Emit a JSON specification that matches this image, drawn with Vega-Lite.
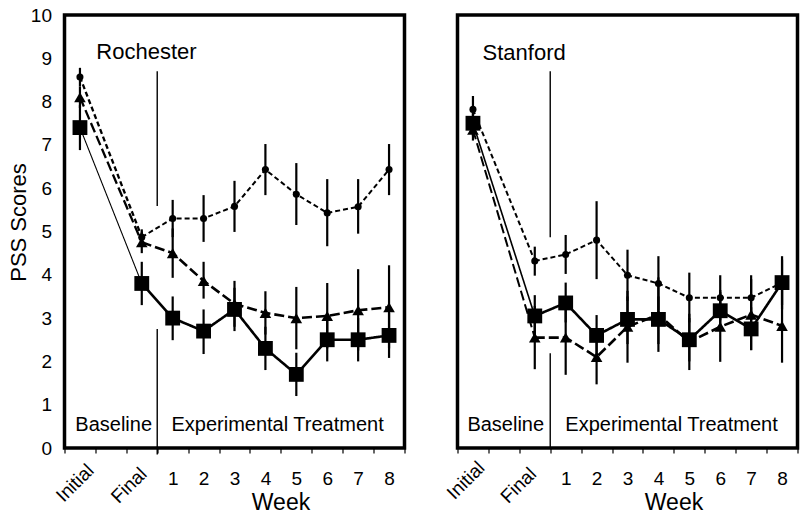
{
  "$schema": "https://vega.github.io/schema/vega-lite/v6.json",
  "padding": {"left": 4.5, "top": 4, "right": 0, "bottom": 0},
  "background": "white",
  "bounds": "flush",
  "spacing": 53,
  "datasets": {
    "pss": [
      {"site": "Rochester", "group": "A", "period": "Initial", "score": 8.57, "lo": 8.35, "hi": 8.78},
      {"site": "Rochester", "group": "A", "period": "Final", "score": 4.87, "lo": 4.65, "hi": 5.05},
      {"site": "Rochester", "group": "A", "period": "1", "score": 5.3, "lo": 4.87, "hi": 5.73},
      {"site": "Rochester", "group": "A", "period": "2", "score": 5.3, "lo": 4.76, "hi": 5.84},
      {"site": "Rochester", "group": "A", "period": "3", "score": 5.58, "lo": 4.99, "hi": 6.17},
      {"site": "Rochester", "group": "A", "period": "4", "score": 6.43, "lo": 5.84, "hi": 7.02},
      {"site": "Rochester", "group": "A", "period": "5", "score": 5.86, "lo": 5.15, "hi": 6.58},
      {"site": "Rochester", "group": "A", "period": "6", "score": 5.43, "lo": 4.66, "hi": 6.21},
      {"site": "Rochester", "group": "A", "period": "7", "score": 5.57, "lo": 4.95, "hi": 6.21},
      {"site": "Rochester", "group": "A", "period": "8", "score": 6.43, "lo": 5.84, "hi": 7.02},
      {"site": "Rochester", "group": "B", "period": "Initial", "score": 8.1, "lo": 7.85, "hi": 8.35},
      {"site": "Rochester", "group": "B", "period": "Final", "score": 4.75, "lo": 4.5, "hi": 5.0},
      {"site": "Rochester", "group": "B", "period": "1", "score": 4.5, "lo": 3.93, "hi": 5.07},
      {"site": "Rochester", "group": "B", "period": "2", "score": 3.86, "lo": 3.45, "hi": 4.3},
      {"site": "Rochester", "group": "B", "period": "3", "score": 3.33, "lo": 2.8, "hi": 3.86},
      {"site": "Rochester", "group": "B", "period": "4", "score": 3.12, "lo": 2.62, "hi": 3.62},
      {"site": "Rochester", "group": "B", "period": "5", "score": 3.0, "lo": 2.28, "hi": 3.72},
      {"site": "Rochester", "group": "B", "period": "6", "score": 3.05, "lo": 2.3, "hi": 3.81},
      {"site": "Rochester", "group": "B", "period": "7", "score": 3.18, "lo": 2.25, "hi": 4.13},
      {"site": "Rochester", "group": "B", "period": "8", "score": 3.25, "lo": 2.3, "hi": 4.22},
      {"site": "Rochester", "group": "C", "period": "Initial", "score": 7.4, "lo": 6.88, "hi": 7.92},
      {"site": "Rochester", "group": "C", "period": "Final", "score": 3.8, "lo": 3.3, "hi": 4.3},
      {"site": "Rochester", "group": "C", "period": "1", "score": 3.0, "lo": 2.49, "hi": 3.5},
      {"site": "Rochester", "group": "C", "period": "2", "score": 2.7, "lo": 2.17, "hi": 3.2},
      {"site": "Rochester", "group": "C", "period": "3", "score": 3.2, "lo": 2.7, "hi": 3.7},
      {"site": "Rochester", "group": "C", "period": "4", "score": 2.3, "lo": 1.8, "hi": 2.8},
      {"site": "Rochester", "group": "C", "period": "5", "score": 1.7, "lo": 1.2, "hi": 2.2},
      {"site": "Rochester", "group": "C", "period": "6", "score": 2.5, "lo": 2.0, "hi": 3.0},
      {"site": "Rochester", "group": "C", "period": "7", "score": 2.5, "lo": 2.0, "hi": 3.0},
      {"site": "Rochester", "group": "C", "period": "8", "score": 2.6, "lo": 2.08, "hi": 3.12},
      {"site": "Stanford", "group": "A", "period": "Initial", "score": 7.82, "lo": 7.5, "hi": 8.13},
      {"site": "Stanford", "group": "A", "period": "Final", "score": 4.32, "lo": 3.98, "hi": 4.65},
      {"site": "Stanford", "group": "A", "period": "1", "score": 4.47, "lo": 4.02, "hi": 4.92},
      {"site": "Stanford", "group": "A", "period": "2", "score": 4.8, "lo": 3.9, "hi": 5.7},
      {"site": "Stanford", "group": "A", "period": "3", "score": 3.99, "lo": 3.4, "hi": 4.58},
      {"site": "Stanford", "group": "A", "period": "4", "score": 3.8, "lo": 3.18, "hi": 4.43},
      {"site": "Stanford", "group": "A", "period": "5", "score": 3.47, "lo": 2.9, "hi": 4.05},
      {"site": "Stanford", "group": "A", "period": "6", "score": 3.47, "lo": 2.95, "hi": 3.99},
      {"site": "Stanford", "group": "A", "period": "7", "score": 3.47, "lo": 2.95, "hi": 3.99},
      {"site": "Stanford", "group": "A", "period": "8", "score": 3.82, "lo": 3.2, "hi": 4.43},
      {"site": "Stanford", "group": "B", "period": "Initial", "score": 7.35, "lo": 7.1, "hi": 7.6},
      {"site": "Stanford", "group": "B", "period": "Final", "score": 2.55, "lo": 1.82, "hi": 3.28},
      {"site": "Stanford", "group": "B", "period": "1", "score": 2.55, "lo": 1.69, "hi": 3.4},
      {"site": "Stanford", "group": "B", "period": "2", "score": 2.1, "lo": 1.47, "hi": 2.73},
      {"site": "Stanford", "group": "B", "period": "3", "score": 2.8, "lo": 1.97, "hi": 3.63},
      {"site": "Stanford", "group": "B", "period": "4", "score": 3.08, "lo": 2.22, "hi": 3.94},
      {"site": "Stanford", "group": "B", "period": "5", "score": 2.45, "lo": 1.8, "hi": 3.1},
      {"site": "Stanford", "group": "B", "period": "6", "score": 2.8, "lo": 1.99, "hi": 3.6},
      {"site": "Stanford", "group": "B", "period": "7", "score": 3.08, "lo": 2.26, "hi": 3.9},
      {"site": "Stanford", "group": "B", "period": "8", "score": 2.82, "lo": 1.97, "hi": 3.67},
      {"site": "Stanford", "group": "C", "period": "Initial", "score": 7.5, "lo": 7.2, "hi": 7.8},
      {"site": "Stanford", "group": "C", "period": "Final", "score": 3.05, "lo": 2.57, "hi": 3.53},
      {"site": "Stanford", "group": "C", "period": "1", "score": 3.35, "lo": 2.9, "hi": 3.82},
      {"site": "Stanford", "group": "C", "period": "2", "score": 2.6, "lo": 2.13, "hi": 3.07},
      {"site": "Stanford", "group": "C", "period": "3", "score": 2.97, "lo": 2.4, "hi": 3.5},
      {"site": "Stanford", "group": "C", "period": "4", "score": 2.97, "lo": 2.4, "hi": 3.5},
      {"site": "Stanford", "group": "C", "period": "5", "score": 2.5, "lo": 2.0, "hi": 3.0},
      {"site": "Stanford", "group": "C", "period": "6", "score": 3.17, "lo": 2.7, "hi": 3.65},
      {"site": "Stanford", "group": "C", "period": "7", "score": 2.75, "lo": 2.26, "hi": 3.25},
      {"site": "Stanford", "group": "C", "period": "8", "score": 3.82, "lo": 3.3, "hi": 4.35}
    ],
    "notes": [
      {"site": "Rochester", "kind": "div", "period": "Final", "y0": 8.7, "y1": 5.59},
      {"site": "Rochester", "kind": "div", "period": "Final", "y0": 2.75, "y1": -0.15},
      {"site": "Stanford", "kind": "div", "period": "Final", "y0": 8.7, "y1": 4.87},
      {"site": "Stanford", "kind": "div", "period": "Final", "y0": 2.19, "y1": 0},
      {"site": "Rochester", "kind": "site", "period": "gap", "y": 8.98, "label": "Rochester"},
      {"site": "Stanford", "kind": "site", "period": "Initial", "y": 8.96, "label": "Stanford"},
      {"site": "Rochester", "kind": "base", "period": "Initial", "y": 0.39, "label": "Baseline"},
      {"site": "Stanford", "kind": "base", "period": "Initial", "y": 0.39, "label": "Baseline"},
      {"site": "Rochester", "kind": "exp", "period": "1", "y": 0.39, "label": "Experimental Treatment"},
      {"site": "Stanford", "kind": "exp", "period": "1", "y": 0.39, "label": "Experimental Treatment"},
      {"site": "Both", "kind": "xlabel", "period": "Initial", "label": "Initial"},
      {"site": "Both", "kind": "xlabel", "period": "Final", "label": "Final"}
    ]
  },
  "hconcat": [
    {
      "width": 340,
      "height": 433,
      "layer": [
        {
          "data": {"name": "pss"},
          "transform": [{"filter": "datum.site == 'Rochester'"}],
          "mark": {"type": "rule", "color": "black", "strokeWidth": 2.2},
          "encoding": {
            "x": {
              "field": "period", "type": "nominal",
              "scale": {"type": "band", "domain": ["Initial", "gap", "Final", "1", "2", "3", "4", "5", "6", "7", "8"], "paddingInner": 0, "paddingOuter": 0},
              "axis": {"title": "Week", "labelOverlap": false, "labelAngle": 0, "labelExpr": "datum.value == 'gap' || datum.value == 'Initial' || datum.value == 'Final' ? '' : datum.value"}
            },
            "y": {"field": "lo", "type": "quantitative", "scale": {"domain": [0, 10], "nice": false}, "title": "PSS Scores"},
            "y2": {"field": "hi"}
          }
        },
        {
          "data": {"name": "pss"},
          "transform": [{"filter": "datum.site == 'Rochester' && (datum.period == 'Initial' || datum.period == 'Final')"}],
          "mark": {"type": "line", "color": "black"},
          "encoding": {
            "x": {"field": "period", "type": "nominal", "scale": {"type": "band", "domain": ["Initial", "gap", "Final", "1", "2", "3", "4", "5", "6", "7", "8"], "paddingInner": 0, "paddingOuter": 0}, "title": "Week"},
            "y": {"field": "score", "type": "quantitative", "scale": {"domain": [0, 10], "nice": false}, "title": "PSS Scores"},
            "detail": {"field": "group"},
            "strokeDash": {"field": "group", "type": "nominal", "scale": {"domain": ["A", "B", "C"], "range": [[5, 3], [10, 4], [1, 0]]}, "legend": null},
            "strokeWidth": {"condition": {"test": "datum.group == 'C'", "value": 1.1}, "value": 2.3},
            "order": {"value": null}
          }
        },
        {
          "data": {"name": "pss"},
          "transform": [{"filter": "datum.site == 'Rochester' && datum.period != 'Initial'"}],
          "mark": {"type": "line", "color": "black"},
          "encoding": {
            "x": {"field": "period", "type": "nominal", "scale": {"type": "band", "domain": ["Initial", "gap", "Final", "1", "2", "3", "4", "5", "6", "7", "8"], "paddingInner": 0, "paddingOuter": 0}, "title": "Week"},
            "y": {"field": "score", "type": "quantitative", "scale": {"domain": [0, 10], "nice": false}, "title": "PSS Scores"},
            "detail": {"field": "group"},
            "strokeDash": {"field": "group", "type": "nominal", "scale": {"domain": ["A", "B", "C"], "range": [[5, 3], [10, 4], [1, 0]]}, "legend": null},
            "strokeWidth": {"condition": {"test": "datum.group == 'A'", "value": 2}, "value": 2.6},
            "order": {"value": null}
          }
        },
        {
          "data": {"name": "pss"},
          "transform": [{"filter": "datum.site == 'Rochester'"}],
          "mark": {"type": "point", "filled": true, "color": "black", "opacity": 1},
          "encoding": {
            "x": {"field": "period", "type": "nominal", "scale": {"type": "band", "domain": ["Initial", "gap", "Final", "1", "2", "3", "4", "5", "6", "7", "8"], "paddingInner": 0, "paddingOuter": 0}, "title": "Week"},
            "y": {"field": "score", "type": "quantitative", "scale": {"domain": [0, 10], "nice": false}, "title": "PSS Scores"},
            "shape": {"field": "group", "type": "nominal", "scale": {"domain": ["A", "B", "C"], "range": ["circle", "triangle-up", "square"]}, "legend": null},
            "size": {"field": "group", "type": "nominal", "scale": {"domain": ["A", "B", "C"], "range": [50, 220, 75]}, "legend": null}
          }
        },
        {
          "data": {"name": "notes"},
          "transform": [{"filter": "datum.site == 'Rochester' && datum.kind == 'div'"}],
          "mark": {"type": "rule", "color": "black", "strokeWidth": 1.4},
          "encoding": {
            "x": {"field": "period", "type": "nominal", "bandPosition": 1, "scale": {"type": "band", "domain": ["Initial", "gap", "Final", "1", "2", "3", "4", "5", "6", "7", "8"], "paddingInner": 0, "paddingOuter": 0}, "title": "Week"},
            "y": {"field": "y0", "type": "quantitative", "scale": {"domain": [0, 10], "nice": false}, "title": "PSS Scores"},
            "y2": {"field": "y1"}
          }
        },
        {
          "data": {"name": "notes"},
          "transform": [{"filter": "datum.site == 'Rochester' && datum.kind == 'site'"}],
          "mark": {"type": "text", "align": "left", "baseline": "alphabetic", "fontSize": 22, "color": "black"},
          "encoding": {
            "x": {"field": "period", "type": "nominal", "bandPosition": 0.03, "scale": {"type": "band", "domain": ["Initial", "gap", "Final", "1", "2", "3", "4", "5", "6", "7", "8"], "paddingInner": 0, "paddingOuter": 0}, "title": "Week"},
            "y": {"field": "y", "type": "quantitative", "scale": {"domain": [0, 10], "nice": false}, "title": "PSS Scores"},
            "text": {"field": "label"}
          }
        },
        {
          "data": {"name": "notes"},
          "transform": [{"filter": "datum.site == 'Rochester' && datum.kind == 'base'"}],
          "mark": {"type": "text", "align": "left", "baseline": "alphabetic", "fontSize": 20, "color": "black"},
          "encoding": {
            "x": {"field": "period", "type": "nominal", "bandPosition": 0.35, "scale": {"type": "band", "domain": ["Initial", "gap", "Final", "1", "2", "3", "4", "5", "6", "7", "8"], "paddingInner": 0, "paddingOuter": 0}, "title": "Week"},
            "y": {"field": "y", "type": "quantitative", "scale": {"domain": [0, 10], "nice": false}, "title": "PSS Scores"},
            "text": {"field": "label"}
          }
        },
        {
          "data": {"name": "notes"},
          "transform": [{"filter": "datum.site == 'Rochester' && datum.kind == 'exp'"}],
          "mark": {"type": "text", "align": "left", "baseline": "alphabetic", "fontSize": 20, "color": "black"},
          "encoding": {
            "x": {"field": "period", "type": "nominal", "bandPosition": 0.46, "scale": {"type": "band", "domain": ["Initial", "gap", "Final", "1", "2", "3", "4", "5", "6", "7", "8"], "paddingInner": 0, "paddingOuter": 0}, "title": "Week"},
            "y": {"field": "y", "type": "quantitative", "scale": {"domain": [0, 10], "nice": false}, "title": "PSS Scores"},
            "text": {"field": "label"}
          }
        },
        {
          "data": {"name": "notes"},
          "transform": [{"filter": "datum.kind == 'xlabel' && datum.label == 'Initial'"}],
          "mark": {"type": "text", "align": "right", "baseline": "middle", "angle": 315, "fontSize": 19, "color": "black"},
          "encoding": {
            "x": {"field": "period", "type": "nominal", "bandPosition": 0.85, "scale": {"type": "band", "domain": ["Initial", "gap", "Final", "1", "2", "3", "4", "5", "6", "7", "8"], "paddingInner": 0, "paddingOuter": 0}, "title": "Week"},
            "y": {"datum": -0.45, "type": "quantitative", "scale": {"domain": [0, 10], "nice": false}, "title": "PSS Scores"},
            "text": {"field": "label"}
          }
        },
        {
          "data": {"name": "notes"},
          "transform": [{"filter": "datum.kind == 'xlabel' && datum.label == 'Final'"}],
          "mark": {"type": "text", "align": "right", "baseline": "middle", "angle": 315, "fontSize": 19, "color": "black"},
          "encoding": {
            "x": {"field": "period", "type": "nominal", "bandPosition": 0.56, "scale": {"type": "band", "domain": ["Initial", "gap", "Final", "1", "2", "3", "4", "5", "6", "7", "8"], "paddingInner": 0, "paddingOuter": 0}, "title": "Week"},
            "y": {"datum": -0.53, "type": "quantitative", "scale": {"domain": [0, 10], "nice": false}, "title": "PSS Scores"},
            "text": {"field": "label"}
          }
        }
      ]
    },
    {
      "width": 340,
      "height": 433,
      "layer": [
        {
          "data": {"name": "pss"},
          "transform": [{"filter": "datum.site == 'Stanford'"}],
          "mark": {"type": "rule", "color": "black", "strokeWidth": 2.2},
          "encoding": {
            "x": {
              "field": "period", "type": "nominal",
              "scale": {"type": "band", "domain": ["Initial", "gap", "Final", "1", "2", "3", "4", "5", "6", "7", "8"], "paddingInner": 0, "paddingOuter": 0},
              "axis": {"title": "Week", "labelOverlap": false, "labelAngle": 0, "labelExpr": "datum.value == 'gap' || datum.value == 'Initial' || datum.value == 'Final' ? '' : datum.value"}
            },
            "y": {"field": "lo", "type": "quantitative", "scale": {"domain": [0, 10], "nice": false}, "axis": null},
            "y2": {"field": "hi"}
          }
        },
        {
          "data": {"name": "pss"},
          "transform": [{"filter": "datum.site == 'Stanford' && (datum.period == 'Initial' || datum.period == 'Final')"}],
          "mark": {"type": "line", "color": "black"},
          "encoding": {
            "x": {"field": "period", "type": "nominal", "scale": {"type": "band", "domain": ["Initial", "gap", "Final", "1", "2", "3", "4", "5", "6", "7", "8"], "paddingInner": 0, "paddingOuter": 0}, "title": "Week"},
            "y": {"field": "score", "type": "quantitative", "scale": {"domain": [0, 10], "nice": false}, "axis": null},
            "detail": {"field": "group"},
            "strokeDash": {"field": "group", "type": "nominal", "scale": {"domain": ["A", "B", "C"], "range": [[5, 3], [10, 4], [1, 0]]}, "legend": null},
            "strokeWidth": {"condition": {"test": "datum.group == 'C'", "value": 1.6}, "value": 2},
            "order": {"value": null}
          }
        },
        {
          "data": {"name": "pss"},
          "transform": [{"filter": "datum.site == 'Stanford' && datum.period != 'Initial'"}],
          "mark": {"type": "line", "color": "black"},
          "encoding": {
            "x": {"field": "period", "type": "nominal", "scale": {"type": "band", "domain": ["Initial", "gap", "Final", "1", "2", "3", "4", "5", "6", "7", "8"], "paddingInner": 0, "paddingOuter": 0}, "title": "Week"},
            "y": {"field": "score", "type": "quantitative", "scale": {"domain": [0, 10], "nice": false}, "axis": null},
            "detail": {"field": "group"},
            "strokeDash": {"field": "group", "type": "nominal", "scale": {"domain": ["A", "B", "C"], "range": [[5, 3], [10, 4], [1, 0]]}, "legend": null},
            "strokeWidth": {"condition": {"test": "datum.group == 'A'", "value": 2}, "value": 2.6},
            "order": {"value": null}
          }
        },
        {
          "data": {"name": "pss"},
          "transform": [{"filter": "datum.site == 'Stanford'"}],
          "mark": {"type": "point", "filled": true, "color": "black", "opacity": 1},
          "encoding": {
            "x": {"field": "period", "type": "nominal", "scale": {"type": "band", "domain": ["Initial", "gap", "Final", "1", "2", "3", "4", "5", "6", "7", "8"], "paddingInner": 0, "paddingOuter": 0}, "title": "Week"},
            "y": {"field": "score", "type": "quantitative", "scale": {"domain": [0, 10], "nice": false}, "axis": null},
            "shape": {"field": "group", "type": "nominal", "scale": {"domain": ["A", "B", "C"], "range": ["circle", "triangle-up", "square"]}, "legend": null},
            "size": {"field": "group", "type": "nominal", "scale": {"domain": ["A", "B", "C"], "range": [45, 240, 75]}, "legend": null}
          }
        },
        {
          "data": {"name": "notes"},
          "transform": [{"filter": "datum.site == 'Stanford' && datum.kind == 'div'"}],
          "mark": {"type": "rule", "color": "black", "strokeWidth": 1.4},
          "encoding": {
            "x": {"field": "period", "type": "nominal", "bandPosition": 1, "scale": {"type": "band", "domain": ["Initial", "gap", "Final", "1", "2", "3", "4", "5", "6", "7", "8"], "paddingInner": 0, "paddingOuter": 0}, "title": "Week"},
            "y": {"field": "y0", "type": "quantitative", "scale": {"domain": [0, 10], "nice": false}, "axis": null},
            "y2": {"field": "y1"}
          }
        },
        {
          "data": {"name": "notes"},
          "transform": [{"filter": "datum.site == 'Stanford' && datum.kind == 'site'"}],
          "mark": {"type": "text", "align": "left", "baseline": "alphabetic", "fontSize": 22, "color": "black"},
          "encoding": {
            "x": {"field": "period", "type": "nominal", "bandPosition": 0.81, "scale": {"type": "band", "domain": ["Initial", "gap", "Final", "1", "2", "3", "4", "5", "6", "7", "8"], "paddingInner": 0, "paddingOuter": 0}, "title": "Week"},
            "y": {"field": "y", "type": "quantitative", "scale": {"domain": [0, 10], "nice": false}, "axis": null},
            "text": {"field": "label"}
          }
        },
        {
          "data": {"name": "notes"},
          "transform": [{"filter": "datum.site == 'Stanford' && datum.kind == 'base'"}],
          "mark": {"type": "text", "align": "left", "baseline": "alphabetic", "fontSize": 20, "color": "black"},
          "encoding": {
            "x": {"field": "period", "type": "nominal", "bandPosition": 0.32, "scale": {"type": "band", "domain": ["Initial", "gap", "Final", "1", "2", "3", "4", "5", "6", "7", "8"], "paddingInner": 0, "paddingOuter": 0}, "title": "Week"},
            "y": {"field": "y", "type": "quantitative", "scale": {"domain": [0, 10], "nice": false}, "axis": null},
            "text": {"field": "label"}
          }
        },
        {
          "data": {"name": "notes"},
          "transform": [{"filter": "datum.site == 'Stanford' && datum.kind == 'exp'"}],
          "mark": {"type": "text", "align": "left", "baseline": "alphabetic", "fontSize": 20, "color": "black"},
          "encoding": {
            "x": {"field": "period", "type": "nominal", "bandPosition": 0.49, "scale": {"type": "band", "domain": ["Initial", "gap", "Final", "1", "2", "3", "4", "5", "6", "7", "8"], "paddingInner": 0, "paddingOuter": 0}, "title": "Week"},
            "y": {"field": "y", "type": "quantitative", "scale": {"domain": [0, 10], "nice": false}, "axis": null},
            "text": {"field": "label"}
          }
        },
        {
          "data": {"name": "notes"},
          "transform": [{"filter": "datum.kind == 'xlabel' && datum.label == 'Initial'"}],
          "mark": {"type": "text", "align": "right", "baseline": "middle", "angle": 315, "fontSize": 19, "color": "black"},
          "encoding": {
            "x": {"field": "period", "type": "nominal", "bandPosition": 0.78, "scale": {"type": "band", "domain": ["Initial", "gap", "Final", "1", "2", "3", "4", "5", "6", "7", "8"], "paddingInner": 0, "paddingOuter": 0}, "title": "Week"},
            "y": {"datum": -0.39, "type": "quantitative", "scale": {"domain": [0, 10], "nice": false}, "axis": null},
            "text": {"field": "label"}
          }
        },
        {
          "data": {"name": "notes"},
          "transform": [{"filter": "datum.kind == 'xlabel' && datum.label == 'Final'"}],
          "mark": {"type": "text", "align": "right", "baseline": "middle", "angle": 315, "fontSize": 19, "color": "black"},
          "encoding": {
            "x": {"field": "period", "type": "nominal", "bandPosition": 0.45, "scale": {"type": "band", "domain": ["Initial", "gap", "Final", "1", "2", "3", "4", "5", "6", "7", "8"], "paddingInner": 0, "paddingOuter": 0}, "title": "Week"},
            "y": {"datum": -0.53, "type": "quantitative", "scale": {"domain": [0, 10], "nice": false}, "axis": null},
            "text": {"field": "label"}
          }
        }
      ]
    }
  ],
  "config": {
    "font": "Liberation Sans",
    "view": {"stroke": "black", "strokeWidth": 3.5},
    "axis": {"grid": false, "domain": false, "labelColor": "black", "titleColor": "black", "titleFontWeight": "normal"},
    "axisX": {"tickBand": "extent", "tickSize": 5, "tickColor": "black", "tickWidth": 1.2, "labelFontSize": 19, "labelPadding": 16, "titleFontSize": 23, "titleX": 216, "titleY": 61, "titleBaseline": "alphabetic"},
    "axisY": {"ticks": false, "labelFontSize": 19, "labelPadding": 13, "tickCount": 10, "titleFontSize": 22, "titleX": -34.5, "titleY": 207}
  }
}
